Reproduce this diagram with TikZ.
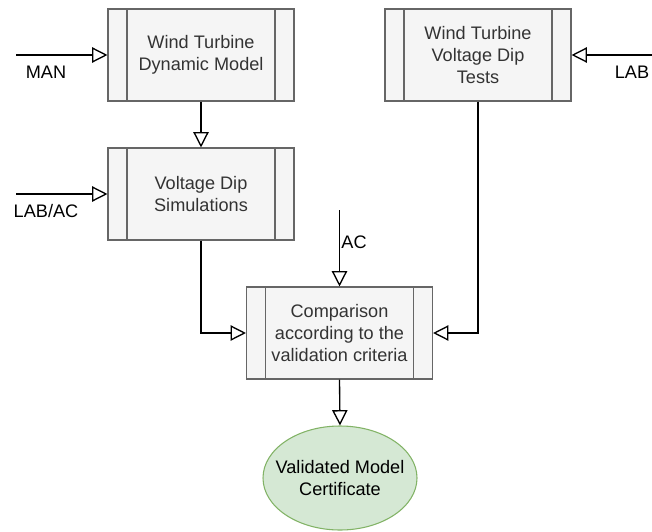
\documentclass[tikz,border=0pt]{standalone}
\usepackage{fontspec}
\setmainfont{Liberation Sans}
\usetikzlibrary{arrows.meta,positioning,shapes.geometric}
\definecolor{boxfill}{HTML}{F5F5F5}
\definecolor{boxline}{HTML}{666666}
\definecolor{boxtext}{HTML}{333333}
\definecolor{certfill}{HTML}{D5E8D4}
\definecolor{certline}{HTML}{82B366}

\begin{document}
\begin{tikzpicture}[x=0.75pt, y=-0.75pt,
    process/.style={draw=boxline, line width=0.8pt, fill=boxfill, text=boxtext, align=center,
        minimum width=139.5pt, minimum height=69pt, inner sep=0pt,
        font=\fontsize{13.6}{16.2}\selectfont,
        path picture={
            \draw[boxline, line width=0.8pt] ([xshift=14.25pt]path picture bounding box.north west) -- ([xshift=14.25pt]path picture bounding box.south west);
            \draw[boxline, line width=0.8pt] ([xshift=-14.25pt]path picture bounding box.north east) -- ([xshift=-14.25pt]path picture bounding box.south east);
        }},
    result/.style={ellipse, draw=certline, line width=0.8pt, fill=certfill, align=center,
        minimum width=115.5pt, minimum height=78pt, inner xsep=-14pt, inner ysep=-6pt,
        font=\fontsize{13.6}{16.2}\selectfont},
    lbl/.style={font=\fontsize{13.6}{16.2}\selectfont, inner sep=0pt},
    flow/.style={-{Triangle[open, length=11.5pt, width=11.5pt]}, line width=1pt}
]
    \useasboundingbox (0,0) rectangle (652,531);

    \node[process] (model) at (201,55) {Wind Turbine\\Dynamic Model};
    \node[process] (sim) at (201,194) {Voltage Dip\\Simulations};
    \node[process] (tests) at (478,55) {Wind Turbine\\Voltage Dip\\Tests};
    \node[process] (comp) at (339.5,333) {Comparison\\according to the\\validation criteria};
    \node[result] (cert) at (340,478) {Validated Model\\Certificate};

    \coordinate (manin) at (16,55);
    \coordinate (labacin) at (16,194);
    \coordinate (labin) at (652,55);
    \coordinate (acin) at (339.5,210);

    \node[lbl] (manlbl) at (46,72) {MAN};
    \node[lbl] (labaclbl) at (46,211) {LAB/AC};
    \node[lbl] (lablbl) at (632,72) {LAB};
    \node[lbl] (aclbl) at (354,242) {AC};

    \draw[flow] (manin) -- (model.west);
    \draw[flow] (labacin) -- (sim.west);
    \draw[flow] (labin) -- (tests.east);
    \draw[flow] (acin) -- (comp.north);
    \draw[flow] (model.south) -- (sim.north);
    \draw[flow] (sim.south) |- (comp.west);
    \draw[flow] (tests.south) |- (comp.east);
    \draw[flow] (comp.south) -- (cert.north);
\end{tikzpicture}
\end{document}
